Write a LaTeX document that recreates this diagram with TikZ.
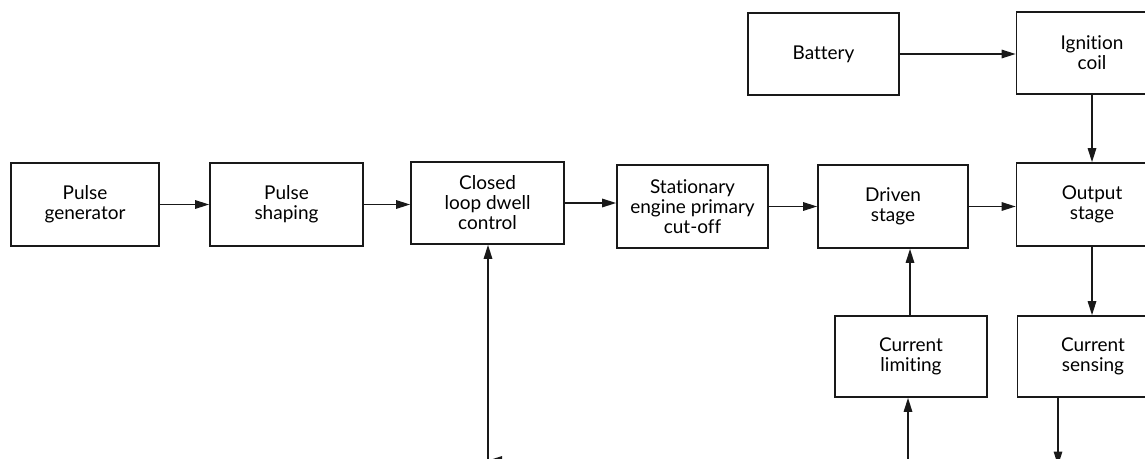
\documentclass[tikz,border=0pt]{standalone}
\usepackage{fontspec}
\setmainfont{Lato}[Ligatures=NoCommon]
\usetikzlibrary{arrows.meta}
\begin{document}
\begin{tikzpicture}[x=1pt,y=-1pt,
  blockbox/.style={draw=black!90, line width=1.7pt, fill=white,
    minimum width=151pt, minimum height=82pt, inner sep=2pt,
    align=center, text=black,
    font=\fontsize{19pt}{20pt}\selectfont},
  flow/.style={draw=black!90, line width=1.4pt,
    -{Triangle[length=14pt,width=8.5pt]}},
  plain/.style={draw=black!90, line width=1.4pt}]
\useasboundingbox (0,0) rectangle (1145,458);
\clip (0,0) rectangle (1145,458);

% main signal path
\node[blockbox, minimum width=148pt, minimum height=83pt] (pg) at (85,204.5) {Pulse\\generator};
\node[blockbox, minimum width=153pt, minimum height=83pt] (ps) at (286.5,204.5) {Pulse\\shaping};
\node[blockbox, minimum width=153pt] (cl) at (487.5,203) {Closed\\loop dwell\\control};
\node[blockbox, minimum height=83pt] (st) at (692.5,206.5) {Stationary\\engine primary\\cut-off};
\node[blockbox, minimum width=150pt, minimum height=83pt] (ds) at (893,206.5) {Driven\\stage};
\node[blockbox, minimum height=83pt] (os) at (1092,204.5) {Output\\stage};

% supply side
\node[blockbox] (bat) at (823.5,54) {Battery};
\node[blockbox] (ic) at (1092,53) {Ignition\\coil};

% current control
\node[blockbox, minimum width=152pt, minimum height=81pt] (clim) at (911,356.5) {Current\\limiting};
\node[blockbox, minimum height=81pt] (cs) at (1093,356.5) {Current\\sensing};

% feedback rail along the bottom
\coordinate (fbl) at (488,460.5);
\coordinate (fbr) at (908,460.5);
\coordinate (csout) at (1058,460.5);

\draw[flow] (pg.east) -- (pg.east -| ps.west);
\draw[flow] (ps.east) -- (ps.east -| cl.west);
\draw[flow] (cl.east) -- (cl.east -| st.west);
\draw[flow] (st.east) -- (st.east -| ds.west);
\draw[flow] (ds.east) -- (ds.east -| os.west);
\draw[flow] (bat.east) -- (bat.east -| ic.west);
\draw[flow] (ic.south -| 1092,0) -- (os.north -| 1092,0);
\draw[flow] (os.south -| 1092,0) -- (cs.north -| 1092,0);
\draw[flow] (clim.north -| 910,0) -- (ds.south -| 910,0);
\draw[flow] (cs.south -| csout) -- ([yshift=-5pt]csout);
\draw[flow] (fbr) -- (clim.south -| fbr);
\draw[flow] (fbr) -- (fbl);
\draw[flow] (fbl) -- (cl.south -| fbl);
\end{tikzpicture}
\end{document}
